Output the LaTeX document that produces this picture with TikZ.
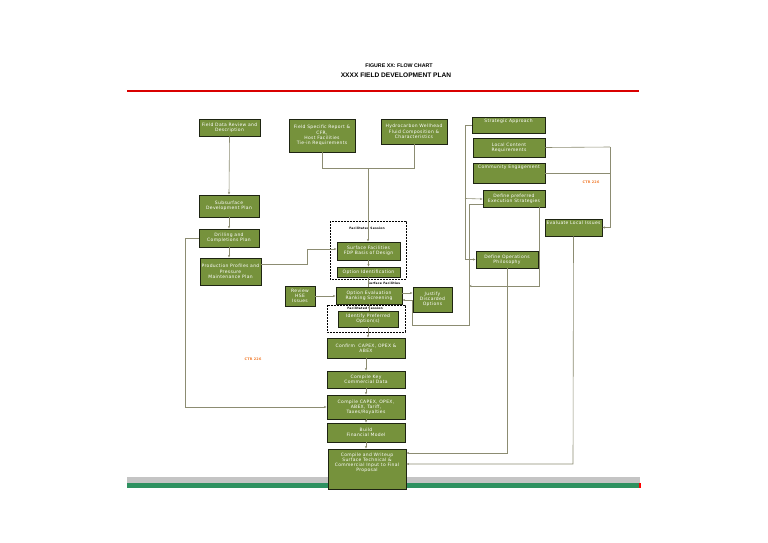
\documentclass[tikz,border=0pt]{standalone}
\usepackage{fontspec}
\setmainfont{DejaVu Sans}[LetterSpace=7]
\newfontfamily\titlefont{Liberation Sans}
\usetikzlibrary{arrows.meta,calc}
\definecolor{boxgreen}{HTML}{76923C}
\definecolor{boxedge}{HTML}{1E2412}
\definecolor{conn}{HTML}{8C8C72}
\definecolor{ctr}{HTML}{F07828}
\definecolor{bandgreen}{HTML}{2E9160}
\definecolor{bandgray}{HTML}{C4C4C4}
\tikzset{
  bx/.style={draw=boxedge, fill=boxgreen, line width=0.9pt, text=white,
    font=\fontsize{4.5}{5.2}\selectfont, align=center, inner sep=0.5pt},
  cn/.style={draw=conn, line width=0.6pt},
  ar/.style={cn, -{Stealth[length=2.6pt,width=2.2pt]}},
  fsbox/.style={draw=black, dashed, line width=0.6pt, dash pattern=on 2pt off 1pt},
  tiny/.style={font=\fontsize{3}{3.4}\selectfont\bfseries, text=black, inner sep=0},
  ctrl/.style={font=\fontsize{3.4}{3.8}\selectfont\bfseries, text=ctr, inner sep=0}
}
\begin{document}
\begin{tikzpicture}[x=1pt,y=-1pt]
\useasboundingbox (0,0) rectangle (768,543);
% title
\node[font=\titlefont\fontsize{5.3}{6}\selectfont\bfseries] (t1) at (399,66) {FIGURE XX: FLOW CHART};
\node[font=\titlefont\fontsize{6.6}{7.5}\selectfont\bfseries] (t2) at (396,75) {XXXX FIELD DEVELOPMENT PLAN};
\fill[red!85!black] (127,90.3) rectangle (639,91.6);
% bottom bands
\fill[bandgray] (127,477) rectangle (640,483);
\fill[bandgreen] (127,483) rectangle (640,488);
\fill[red] (639,483) rectangle (641,488);

% dashed facilitated session boxes
\draw[fsbox] (330,221) rectangle (406,279);
\draw[fsbox] (327,305) rectangle (405,332);
\node[tiny] (fl1) at (367,228) {Facilitated Session};
\node[tiny] (fl2) at (365,308) {Facilitated Session};
\node[tiny] (sfl) at (384,283) {Surface Facilities};
\node[ctrl] (ctr1) at (591,182) {CTR 226};
\node[ctrl] (ctr2) at (253,359) {CTR 226};

% boxes
\node[bx, minimum width=61, minimum height=17] (fdr) at (229.5,127.5) {Field Data Review and\\Description};
\node[bx, minimum width=66, minimum height=33] (fsr) at (322,135.5) {Field Specific Report \&\\CFR,\\Host Facilities\\Tie-in Requirements};
\node[bx, minimum width=66, minimum height=25] (hwf) at (414,131.5) {Hydrocarbon Wellhead\\Fluid Composition \&\\Characteristics};
\node[bx, minimum width=73, minimum height=16] (sa) at (508.5,125) {Strategic Approach\\[3pt]};
\node[bx, minimum width=72, minimum height=19] (lcr) at (509,147.5) {Local Content\\Requirements};
\node[bx, minimum width=72, minimum height=20] (ce) at (509,173) {Community Engagement\\[7pt]};
\node[bx, minimum width=62, minimum height=17] (dpe) at (514,198.5) {Define preferred\\Execution Strategies};
\node[bx, minimum width=62, minimum height=17] (dop) at (507,259.5) {Define Operations\\Philosophy};
\node[bx, minimum width=57, minimum height=17] (eli) at (573.5,227.5) {Evaluate Local Issues\\[5pt]};
\node[bx, minimum width=60, minimum height=22] (sdp) at (229,206) {Subsurface\\Development Plan};
\node[bx, minimum width=60, minimum height=18] (dcp) at (229,238) {Drilling and\\Completions Plan};
\node[bx, minimum width=61, minimum height=27] (ppm) at (230.5,271.5) {Production Profiles and\\Pressure\\Maintenance Plan};
\node[bx, minimum width=63, minimum height=18] (sfb) at (368.5,251) {Surface Facilities\\FDP Basis of Design};
\node[bx, minimum width=63, minimum height=10] (oid) at (368.5,272) {Option Identification};
\node[bx, minimum width=66, minimum height=17] (oer) at (369,295.5) {Option Evaluation\\Ranking Screening};
\node[bx, minimum width=39, minimum height=25] (jdo) at (432.5,299.5) {Justify\\Discarded\\Options};
\node[bx, minimum width=30, minimum height=20] (rhse) at (300,296) {Review\\HSE\\Issues};
\node[bx, minimum width=60, minimum height=16] (ipo) at (368,319) {Identify Preferred\\Option(s)};
\node[bx, minimum width=78, minimum height=20] (cce) at (366,348) {Confirm\ \ CAPEX, OPEX \&\\ABEX};
\node[bx, minimum width=78, minimum height=17] (ckc) at (366,379.5) {Compile Key\\Commercial Data};
\node[bx, minimum width=78, minimum height=24] (ccx) at (366,407) {Compile CAPEX, OPEX,\\ABEX, Tariff,\\Taxes/Royalties};
\node[bx, minimum width=78, minimum height=19] (bfm) at (366,432.5) {Build\\Financial Model};
\node[bx, minimum width=78, minimum height=40] (cwu) at (367,469) {Compile and Writeup\\Surface Technical \&\\Commercial Input to Final\\Proposal\\[8pt]};

% junction coordinates
\coordinate (j1) at (368,168);
\coordinate (jl) at (185,238);
\coordinate (jp) at (307,249);
\coordinate (js) at (465,125);
\coordinate (jd) at (469,204);
\coordinate (jr) at (412,325);
\coordinate (jo) at (412,300);
\coordinate (jb) at (539,286);
\coordinate (jc) at (610,147);
\coordinate (jop) at (507,453);
\coordinate (jel) at (573,464);

% connectors
\draw[ar] (fdr.south) -- (sdp.north);
\draw[cn] (fsr.south) -- (fsr.south |- j1) -- (hwf.south |- j1) -- (hwf.south);
\draw[ar] (j1) -- (j1 |- sfb.north);
\draw[ar] (sdp.south) -- (dcp.north);
\draw[ar] (dcp.south) -- (dcp.south |- ppm.north);
\draw[ar] (dcp.west) -- (jl) |- (ccx.west);
\draw[ar] (ppm.east |- 0,264) -- (jp |- 0,264) -- (jp) -- (jp -| sfb.west);
\draw[ar] (sfb.south) -- (oid.north);
\draw[cn] (oid.south) -- (oid.south |- oer.north);
\draw[ar] (rhse.east) -- (rhse.east -| oer.west);
\draw[ar] (oer.east |- 0,293) -- (jdo.west |- 0,293);
\draw[ar] (dpe.west |- jd) -- (jd) |- (jr) -- (jo) -- (jo -| oer.east);
\draw[ar] (sa.west) -- (js) |- (dop.west);
\draw[ar] (js |- dpe.west) -- ($(dpe.west)+(0,0.5)$);
\draw[ar] (jb |- dpe.south) -- (jb) -- (jd |- jb);
\draw[cn] (lcr.east) -- (jc);
\draw[cn] (ce.east) -- (jc |- ce.east);
\draw[ar] (jc) -- (jc |- eli.east) -- (eli.east);
\draw[ar] (dop.south) -- (jop) -- (jop -| cwu.east);
\draw[ar] (eli.south) -- (jel) -- (jel -| cwu.east);
\draw[cn] (oer.south) -- (oer.south |- ipo.north);
\draw[ar] (ipo.south) -- (ipo.south |- cce.north);
\draw[ar] (cce.south) -- (ckc.north);
\draw[ar] (ckc.south) -- (ccx.north);
\draw[ar] (ccx.south) -- (bfm.north);
\draw[ar] (bfm.south) -- (bfm.south |- cwu.north);
\end{tikzpicture}
\end{document}
